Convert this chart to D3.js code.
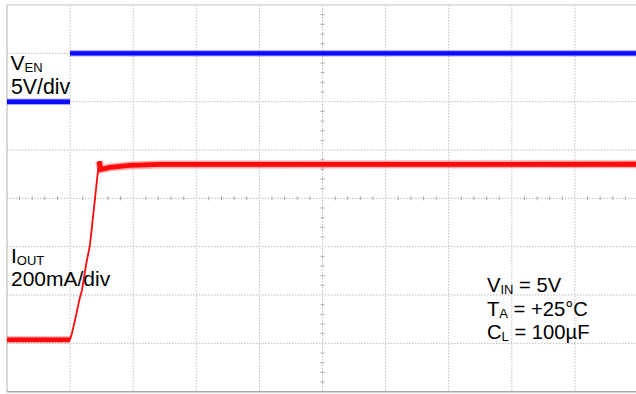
<!DOCTYPE html>
<html>
<head>
<meta charset="utf-8">
<script src="https://cdn.jsdelivr.net/npm/d3@7"></script>
<style>
html,body{margin:0;padding:0;background:#fff;}
svg{display:block;}
text{font-family:"Liberation Sans",Arial,sans-serif;fill:#000;}
</style>
</head>
<body>
<svg id="c" width="636" height="394"></svg>
<script>
// ---- data (time in divisions, 10 div across) ----
const vEnTime  = [0, 0.998, 0.998, 0.998, 10];
const vEnVolts = [0, 0, null, 5, 5];     // V, 5 V/div (edge not visible on scope)
const iOutTime = [0, 0.998, 1.030, 1.078, 1.146, 1.189, 1.252, 1.315, 1.395, 1.458, 1.490, 1.632, 1.949, 2.425, 10];
const iOutmA   = [0, 0, 28, 81, 164, 206, 309, 392, 585, 738, 705, 713, 721, 725, 726]; // mA, 200 mA/div
const vEnZeroDiv = 6.0;     // screen position (div) of V_EN ground
const iOutZeroDiv = 1.076;  // screen position (div) of I_OUT zero
const vPerDiv = 5, mAPerDiv = 200;
const xDivs = d3.range(0, 11);
const yDivs = d3.range(0, 9);
const notes = [
  {main: "V", sub: "IN", rest: " = 5V"},
  {main: "T", sub: "A", rest: " = +25°C"},
  {main: "C", sub: "L", rest: " = 100µF"}
];

// ---- scales ----
const pl = 7, pr = 638, pt = 5, pb = 391.7;
const x = d3.scaleLinear().domain([0, 10]).range([pl, pr]);
const y = d3.scaleLinear().domain([0, 8]).range([pb, pt]);
const svg = d3.select("#c");

// grid
const g = svg.append("g");
g.selectAll(".vg").data(xDivs.filter(d => d > 0 && d < 10)).join("line")
  .attr("x1", d => x(d)).attr("x2", d => x(d)).attr("y1", pt).attr("y2", pb)
  .attr("stroke", "#bcbcbc").attr("stroke-width", 1).attr("stroke-dasharray", "1.5,1.5");
g.selectAll(".hg").data(yDivs.filter(d => d > 0 && d < 8)).join("line")
  .attr("x1", pl).attr("x2", pr).attr("y1", d => y(d)).attr("y2", d => y(d))
  .attr("stroke", "#bcbcbc").attr("stroke-width", 1).attr("stroke-dasharray", "1.5,1.5");

// center axis minor ticks
const xt = d3.range(0, 50).map(i => i / 5).filter(d => Math.abs(d - Math.round(d)) > 1e-6);
g.selectAll(".xt").data(xt).join("line")
  .attr("x1", d => x(d)).attr("x2", d => x(d)).attr("y1", y(4) - 2).attr("y2", y(4) + 2)
  .attr("stroke", "#a8a8a8").attr("stroke-width", 1);
const yt = d3.range(0, 40).map(i => i / 5).filter(d => Math.abs(d - Math.round(d)) > 1e-6);
g.selectAll(".yt").data(yt).join("line")
  .attr("x1", x(5) - 2).attr("x2", x(5) + 2).attr("y1", d => y(d)).attr("y2", d => y(d))
  .attr("stroke", "#a8a8a8").attr("stroke-width", 1);

// borders
g.append("line").attr("x1", pl).attr("x2", pr).attr("y1", pt).attr("y2", pt)
  .attr("stroke", "#c4c4c4").attr("stroke-width", 1);
g.append("line").attr("x1", pl).attr("x2", pl).attr("y1", pt).attr("y2", pb)
  .attr("stroke", "#b4b4b4").attr("stroke-width", 1);
g.append("line").attr("x1", pl).attr("x2", pr).attr("y1", pb).attr("y2", pb)
  .attr("stroke", "#a8a8a8").attr("stroke-width", 1.5);

// traces
const vEnPts = vEnTime.map((t, i) => [t, vEnVolts[i] == null ? null : vEnZeroDiv + vEnVolts[i] / vPerDiv]);
const iOutPts = iOutTime.map((t, i) => [t, iOutZeroDiv + iOutmA[i] / mAPerDiv]);
const line = d3.line().defined(d => d[1] != null).x(d => x(d[0])).y(d => y(d[1]));

function band(pts, color, core, fuzz) {
  svg.append("path").attr("d", line(pts)).attr("fill", "none")
    .attr("stroke", color).attr("stroke-opacity", 0.35).attr("stroke-width", fuzz);
  svg.append("path").attr("d", line(pts)).attr("fill", "none")
    .attr("stroke", color).attr("stroke-width", core);
}
band(vEnPts, "#0a0aff", 4.4, 6.5);
// I_OUT: thin rising edge, thick noisy flat sections
svg.append("path").attr("d", line(iOutPts)).attr("fill", "none")
  .attr("stroke", "#ff0a0a").attr("stroke-width", 1.8);
band(iOutPts.slice(0, 2), "#ff0a0a", 4.4, 7);
band(iOutPts.slice(9), "#ff0a0a", 4.8, 8);

// labels
function label(xp, yp, main, sub, rest, fs, sfs) {
  const t = svg.append("text").attr("x", xp).attr("y", yp).attr("font-size", fs);
  t.append("tspan").text(main);
  t.append("tspan").attr("font-size", sfs).attr("dy", 2).text(sub);
  if (rest) t.append("tspan").attr("dy", -2).text(rest);
}
label(10.5, 70, "V", "EN", null, 21, 13);
svg.append("text").attr("x", 11).attr("y", 94).attr("font-size", 21.3).text("5V/div");
label(11, 263, "I", "OUT", null, 21, 13);
svg.append("text").attr("x", 11).attr("y", 286).attr("font-size", 21).text("200mA/div");

notes.forEach((n, i) => {
  label(487, 291.7 + i * 23.8, n.main, n.sub, n.rest, 20.2, 13);
});
</script>
</body>
</html>
